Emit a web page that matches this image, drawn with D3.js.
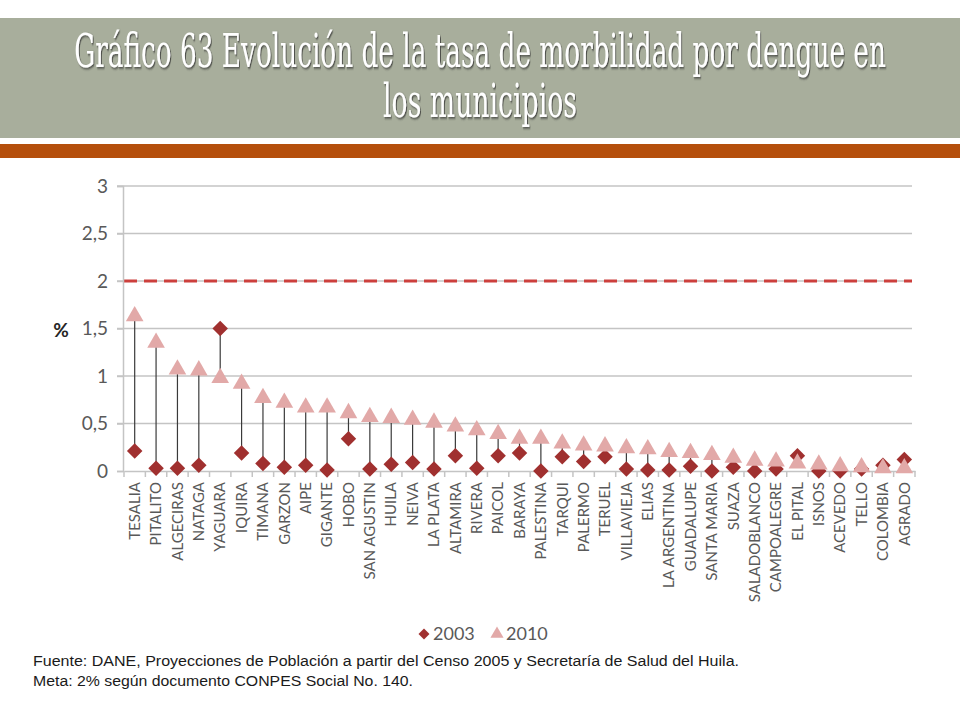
<!DOCTYPE html>
<html>
<head>
<meta charset="utf-8">
<script src="https://cdn.jsdelivr.net/npm/d3@7"></script>
<style>
  body { margin: 0; background: #fff; }
  svg { display: block; }
</style>
</head>
<body>
<svg id="chart" width="960" height="720"></svg>
<script>
const municipios = ['TESALIA', 'PITALITO', 'ALGECIRAS', 'NATAGA', 'YAGUARA', 'IQUIRA', 'TIMANA',
  'GARZON', 'AIPE', 'GIGANTE', 'HOBO', 'SAN AGUSTIN', 'HUILA', 'NEIVA', 'LA PLATA', 'ALTAMIRA',
  'RIVERA', 'PAICOL', 'BARAYA', 'PALESTINA', 'TARQUI', 'PALERMO', 'TERUEL', 'VILLAVIEJA', 'ELIAS',
  'LA ARGENTINA', 'GUADALUPE', 'SANTA MARIA', 'SUAZA', 'SALADOBLANCO', 'CAMPOALEGRE', 'EL PITAL',
  'ISNOS', 'ACEVEDO', 'TELLO', 'COLOMBIA', 'AGRADO'];

const tasa2003 = [0.21, 0.03, 0.03, 0.06, 1.50, 0.19, 0.08, 0.04, 0.06, 0.01, 0.34, 0.02, 0.07,
  0.09, 0.02, 0.16, 0.03, 0.16, 0.19, 0.00, 0.15, 0.10, 0.15, 0.02, 0.01, 0.01, 0.05, 0.00, 0.04,
  0.00, 0.02, 0.16, 0.00, 0.00, 0.02, 0.06, 0.12];

const tasa2010 = [1.63, 1.35, 1.07, 1.06, 0.98, 0.92, 0.77, 0.72, 0.67, 0.67, 0.61, 0.57, 0.56,
  0.54, 0.51, 0.47, 0.43, 0.39, 0.34, 0.34, 0.29, 0.27, 0.26, 0.24, 0.23, 0.20, 0.19, 0.17, 0.14,
  0.11, 0.10, 0.08, 0.07, 0.05, 0.04, 0.03, 0.03];

const yTicks = [0, 0.5, 1, 1.5, 2, 2.5, 3];
const meta = 2;
const seriesNames = ['2003', '2010'];

const titleLines = ['Gráfico 63 Evolución de la tasa de morbilidad por dengue en', 'los municipios'];
const notas = [
  'Fuente: DANE, Proyecciones de Población a partir del Censo 2005 y Secretaría de Salud del Huila.',
  'Meta: 2% según documento CONPES Social No. 140.'
];

const colDiamond = '#a0302f';
const colTriangle = '#e2a9a8';

const svg = d3.select('#chart');

// banner
svg.append('rect').attr('x', 0).attr('y', 18).attr('width', 960).attr('height', 120).attr('fill', '#a8ae9c');
svg.append('rect').attr('x', 0).attr('y', 144).attr('width', 960).attr('height', 14).attr('fill', '#b54f0c');

const defs = svg.append('defs');
const shadow = defs.append('filter').attr('id', 'shadow').attr('x', '-5%').attr('y', '-20%')
  .attr('width', '110%').attr('height', '140%');
shadow.append('feDropShadow').attr('dx', 1.5).attr('dy', 1.5).attr('stdDeviation', 1)
  .attr('flood-color', '#333').attr('flood-opacity', 0.8);

// title: squeeze horizontally to the width of the reference lines
const titleWidths = [812, 194];
svg.selectAll('g.title')
  .data(titleLines)
  .enter().append('g')
  .attr('class', 'title')
  .each(function (d, i) {
    const g = d3.select(this);
    const t = g.append('text')
      .attr('x', 0).attr('y', 0)
      .attr('text-anchor', 'middle')
      .attr('font-family', '"DejaVu Serif Condensed", "DejaVu Serif", serif')
      .attr('font-size', 47)
      .attr('fill', '#fff')
      .attr('filter', 'url(#shadow)')
      .text(d);
    const sx = titleWidths[i] / t.node().getComputedTextLength();
    g.attr('transform', 'translate(480,' + (67 + i * 50) + ') scale(' + sx + ',1)');
  });

// scales
const x = d3.scaleBand().domain(municipios).range([124, 915]).padding(0);
const y = d3.scaleLinear().domain([0, 3]).range([471, 186]);

const plot = svg.append('g');

// gridlines
plot.selectAll('line.grid')
  .data(yTicks.filter(function (d) { return d > 0; }))
  .enter().append('line')
  .attr('class', 'grid')
  .attr('x1', 117).attr('x2', 912)
  .attr('y1', function (d) { return y(d); })
  .attr('y2', function (d) { return y(d); })
  .attr('stroke', '#c4c4c4')
  .attr('stroke-width', 1.5);

// meta line
plot.append('line')
  .attr('x1', 124).attr('x2', 912)
  .attr('y1', y(meta)).attr('y2', y(meta))
  .attr('stroke', '#cc3f3c')
  .attr('stroke-width', 3)
  .attr('stroke-dasharray', '13,7');

// y axis
const yAxis = d3.axisLeft(y).tickValues(yTicks).tickSize(6).tickPadding(9)
  .tickFormat(function (d) { return d3.format('')(d).replace('.', ','); });
const yG = plot.append('g').attr('transform', 'translate(123,0)').call(yAxis);
yG.select('.domain').attr('stroke', '#c4c4c4').attr('stroke-width', 1.5);
yG.selectAll('.tick line').attr('stroke', '#c4c4c4').attr('stroke-width', 1.5);
yG.selectAll('.tick text')
  .attr('font-family', 'Lato, "Open Sans", sans-serif')
  .attr('font-size', 19)
  .attr('fill', '#595959');

// x axis
const xAxis = d3.axisBottom(x).tickSize(0).tickPadding(0);
const xG = plot.append('g').attr('transform', 'translate(0,' + y(0) + ')').call(xAxis);
xG.select('.domain').attr('stroke', '#c4c4c4').attr('stroke-width', 1.5);
xG.selectAll('.tick text')
  .attr('transform', 'rotate(-90)')
  .attr('x', -11)
  .attr('y', 0)
  .attr('dy', '0.35em')
  .attr('text-anchor', 'end')
  .attr('font-family', 'Lato, "Open Sans", sans-serif')
  .attr('font-size', 15)
  .attr('fill', '#595959');
// tick marks between categories
xG.selectAll('line.sep')
  .data(municipios.concat(['_end']))
  .enter().append('line')
  .attr('class', 'sep')
  .attr('x1', function (d, i) { return x.range()[0] + i * x.bandwidth(); })
  .attr('x2', function (d, i) { return x.range()[0] + i * x.bandwidth(); })
  .attr('y1', 0).attr('y2', 6)
  .attr('stroke', '#c4c4c4')
  .attr('stroke-width', 1.5);

// y label
svg.append('text')
  .attr('x', 61).attr('y', 337)
  .attr('text-anchor', 'middle')
  .attr('font-family', 'Lato, "Open Sans", sans-serif')
  .attr('font-weight', 'bold')
  .attr('font-size', 19)
  .attr('fill', '#262626')
  .text('%');

const rows = municipios.map(function (m, i) {
  return { name: m, v03: tasa2003[i], v10: tasa2010[i] };
});
const cx = function (d) { return x(d.name) + x.bandwidth() / 2; };

// high-low lines
plot.selectAll('line.hilo')
  .data(rows)
  .enter().append('line')
  .attr('class', 'hilo')
  .attr('x1', cx).attr('x2', cx)
  .attr('y1', function (d) { return y(d.v03); })
  .attr('y2', function (d) { return y(d.v10); })
  .attr('stroke', '#3a3a3a')
  .attr('stroke-width', 1.2);

const diamond = d3.symbol(d3.symbolSquare, 120)();
const triangle = d3.symbol(d3.symbolTriangle, 135)();

plot.selectAll('path.d03')
  .data(rows)
  .enter().append('path')
  .attr('class', 'd03')
  .attr('d', diamond)
  .attr('transform', function (d) { return 'translate(' + cx(d) + ',' + y(d.v03) + ') rotate(45)'; })
  .attr('fill', colDiamond);

plot.selectAll('path.d10')
  .data(rows)
  .enter().append('path')
  .attr('class', 'd10')
  .attr('d', triangle)
  .attr('transform', function (d) { return 'translate(' + cx(d) + ',' + y(d.v10) + ')'; })
  .attr('fill', colTriangle);

// legend
const legend = svg.append('g').attr('transform', 'translate(0,634)');
const legendX = [424, 497];
legend.selectAll('path')
  .data(seriesNames)
  .enter().append('path')
  .attr('d', function (d, i) { return i === 0 ? d3.symbol(d3.symbolSquare, 60)() : d3.symbol(d3.symbolTriangle, 75)(); })
  .attr('transform', function (d, i) { return 'translate(' + legendX[i] + ',0)' + (i === 0 ? ' rotate(45)' : ''); })
  .attr('fill', function (d, i) { return i === 0 ? colDiamond : colTriangle; });
legend.selectAll('text')
  .data(seriesNames)
  .enter().append('text')
  .attr('x', function (d, i) { return legendX[i] + 9; })
  .attr('y', 0)
  .attr('dy', '0.35em')
  .attr('font-family', 'Lato, "Open Sans", sans-serif')
  .attr('font-size', 18)
  .attr('fill', '#595959')
  .text(function (d) { return d; });

// footnotes
const notaWidths = [706, 380];
svg.selectAll('text.nota')
  .data(notas)
  .enter().append('text')
  .attr('class', 'nota')
  .attr('x', 33)
  .attr('y', function (d, i) { return 666 + i * 20; })
  .attr('font-family', '"Liberation Sans", Arial, sans-serif')
  .attr('font-size', 14)
  .attr('fill', '#1a1a1a')
  .attr('textLength', function (d, i) { return notaWidths[i]; })
  .attr('lengthAdjust', 'spacingAndGlyphs')
  .text(function (d) { return d; });
</script>
</body>
</html>
